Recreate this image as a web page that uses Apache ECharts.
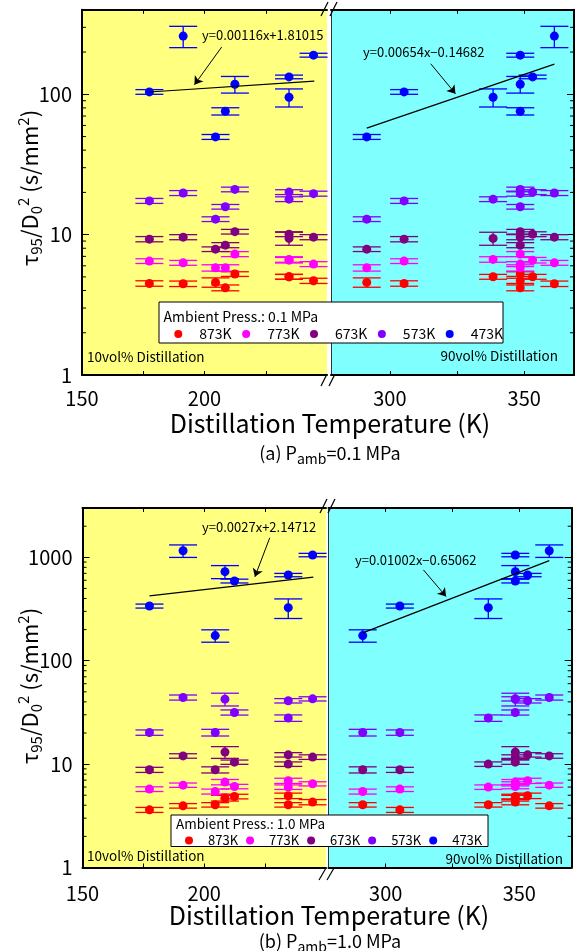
<!DOCTYPE html>
<html><head><meta charset="utf-8">
<script src="https://cdn.jsdelivr.net/npm/echarts@6/dist/echarts.min.js"></script>
<style>html,body{margin:0;padding:0;background:#fff}#c{width:575px;height:951px}</style>
</head><body><div id="c"></div>
<script>
const FONT = '"Noto Sans CJK JP","Noto Sans",sans-serif';
const temps = ['873K', '773K', '673K', '573K', '473K'];
const colors = ['#ff0000', '#ff00ff', '#800080', '#8000ff', '#0000ff'];

// Distillation temperatures of the 8 fuels (K)
const T10 = [177.5, 191.3, 204.5, 208.5, 212.4, 234.5, 234.5, 244.5];
const T90 = [305.3, 361.2, 291.4, 348.5, 348.5, 353.1, 338.4, 348.5];

// (a) Pamb = 0.1 MPa : tau95/D0^2 values and error (s/mm2)
const a873 = [4.49, 4.47, 4.57, 4.18, 5.24, 5.01, 5.01, 4.69];
const a773 = [6.48, 6.30, 5.80, 5.80, 7.27, 6.58, 6.66, 6.17];
const a673 = [9.29, 9.60, 7.88, 8.42, 10.5, 10.08, 9.40, 9.60];
const a573 = [17.4, 19.8, 12.9, 15.8, 21.0, 20.1, 17.9, 19.6];
const a473 = [104, 260, 49.7, 75.7, 118, 133, 95.2, 190];
const a873e = [0.2, 0.2, 0.35, 0.2, 0.2, 0.2, 0.2, 0.2];
const a773e = [0.25, 0.25, 0.3, 0.3, 0.3, 0.3, 0.3, 0.25];
const a673e = [0.4, 0.4, 0.3, 0.35, 0.4, 0.4, 1.0, 0.4];
const a573e = [0.7, 0.8, 0.5, 0.6, 0.8, 0.8, 0.7, 0.8];
const a473e = [4, 45, 2, 4.5, 16, 4, 14, 6];

// (b) Pamb = 1.0 MPa
const b873 = [3.61, 3.95, 4.04, 4.69, 4.86, 4.94, 4.04, 4.29];
const b773 = [5.73, 6.26, 5.43, 6.70, 6.07, 6.90, 5.99, 6.45];
const b673 = [8.81, 12.0, 8.81, 13.06, 10.45, 12.3, 10.0, 11.7];
const b573 = [20.2, 44.1, 20.2, 42.5, 31.6, 41.0, 27.9, 42.8];
const b473 = [338, 1158, 175, 727, 590, 674, 326, 1052];
const b873e = [0.2, 0.2, 0.2, 0.3, 0.25, 0.3, 0.2, 0.25];
const b773e = [0.3, 0.3, 0.3, 0.4, 0.3, 0.4, 0.3, 0.3];
const b673e = [0.5, 0.6, 0.6, 1.7, 0.5, 0.6, 0.5, 0.6];
const b573e = [1.2, 2.5, 1.5, 6, 1.8, 2, 2, 2];
const b473e = [15, 160, 24, 105, 25, 25, 70, 40];

// fit lines (log10 fits shown in the chart) — endpoints
const fitA10 = [[177.5, 103.8], [244.8, 124.2]];
const fitA90 = [[291.4, 57.4], [361.2, 164.2]];
const fitB10 = [[177.5, 423], [244.8, 643]];
const fitB90 = [[291.4, 186], [361.2, 930]];
const eqA10 = 'y=0.00116x+1.81015';
const eqA90 = 'y=0.00654x\u22120.14682';
const eqB10 = 'y=0.0027x+2.14712';
const eqB90 = 'y=0.01002x\u22120.65062';
// arrows: [from, to] in data coords
const arrA10 = [[207.0, 217], [195.9, 117]];
const arrA90 = [[315.2, 165], [324.4, 101]];
const arrB10 = [[226.9, 1545], [220.8, 648]];
const arrB90 = [[314.1, 757], [322.6, 418]];

// axis ticks / labels
const xTickL = [175, 200, 225];
const xLabL = [150, 200];
const xTickR = [300, 325, 350];
const xLabR = [300, 350];

const panels = [
  { top: 9.8, height: 365.2, yMax: 400, margin: 13,
    L: { left: 82, width: 245, min: 150, max: 250 },
    R: { left: 331, width: 243, min: 278.1, max: 368.5 } },
  { top: 508, height: 359.5, yMax: 3000, margin: 16,
    L: { left: 82.5, width: 243.5, min: 150, max: 250 },
    R: { left: 328.5, width: 243.2, min: 278.6, max: 369.6 } }
];

const minorVals = [];
for (let d = 1; d <= 1000; d *= 10) for (let k = 2; k <= 9; k++) minorVals.push(k * d);

const grids = [], xAxes = [], yAxes = [], series = [];
panels.forEach((p, pi) => {
  ['L', 'R'].forEach((side, si) => {
    const s = p[side];
    const g = pi * 2 + si;
    grids.push({ left: s.left, top: p.top, width: s.width, height: p.height, show: true,
      backgroundColor: si === 0 ? '#ffff80' : '#80ffff', borderWidth: 0 });
    const ticks = si === 0 ? xTickL : xTickR;
    const labs = si === 0 ? xLabL : xLabR;
    const xBase = { gridIndex: g, type: 'value', min: s.min, max: s.max, splitLine: { show: false },
      axisLine: { lineStyle: { color: '#000', width: 2 } } };
    xAxes.push(Object.assign({}, xBase, { position: 'bottom',
      axisTick: { inside: true, length: 4, customValues: ticks, lineStyle: { color: '#000', width: 1 } },
      axisLabel: { customValues: labs, fontSize: 20, color: '#000', fontFamily: FONT, margin: p.margin } }));
    xAxes.push(Object.assign({}, xBase, { position: 'top',
      axisTick: { inside: true, length: 4, customValues: ticks, lineStyle: { color: '#000', width: 1 } },
      axisLabel: { show: false } }));
    const yBase = { gridIndex: g, type: 'log', logBase: 10, min: 1, max: p.yMax, splitLine: { show: false } };
    if (si === 0) {
      yAxes.push(Object.assign({}, yBase, { position: 'left',
        axisLine: { lineStyle: { color: '#000', width: 2 } },
        axisTick: { inside: true, length: 7, lineStyle: { color: '#000', width: 1 } },
        axisLabel: { fontSize: 20, color: '#000', fontFamily: FONT, margin: 10, showMaxLabel: false,
          formatter: v => String(Math.round(v)) } }));
      yAxes.push(Object.assign({}, yBase, { position: 'right', show: false }));
    } else {
      yAxes.push(Object.assign({}, yBase, { position: 'left',
        axisLine: { lineStyle: { color: '#333', width: 1 } },
        axisTick: { show: false }, axisLabel: { show: false } }));
      yAxes.push(Object.assign({}, yBase, { position: 'right',
        axisLine: { lineStyle: { color: '#000', width: 2 } },
        axisTick: { inside: true, length: 7, lineStyle: { color: '#000', width: 1 } },
        axisLabel: { show: false } }));
    }
    // minor log ticks
    const yMax = p.yMax;
    series.push({ type: 'custom', xAxisIndex: 2 * g, yAxisIndex: 2 * g, silent: true, z: 5,
      data: [[s.min, 1]],
      renderItem: (params, api) => {
        const cs = params.coordSys;
        const children = [];
        const x0 = si === 0 ? cs.x : cs.x + cs.width;
        const dir = si === 0 ? 1 : -1;
        minorVals.forEach(v => {
          if (v > yMax) return;
          const y = api.coord([s.min, v])[1];
          children.push({ type: 'line', shape: { x1: x0, y1: y, x2: x0 + dir * 4, y2: y },
            style: { stroke: '#000', lineWidth: 1 } });
        });
        return { type: 'group', children };
      } });
  });
});

function errSeries(name, color, g, xs, vs, es) {
  return { type: 'custom', name, xAxisIndex: 2 * g, yAxisIndex: 2 * g, z: 2, silent: true,
    itemStyle: { color },
    data: xs.map((x, j) => [x, vs[j], es[j]]),
    encode: { x: 0, y: 1 },
    renderItem: (params, api) => {
      const x = api.value(0), y = api.value(1), e = api.value(2);
      const t = api.coord([x, y + e]);
      const b = api.coord([x, Math.max(y - e, 1e-6)]);
      const hw = 14;
      const st = { stroke: color, lineWidth: 1.3 };
      return { type: 'group', children: [
        { type: 'line', shape: { x1: t[0], y1: t[1], x2: b[0], y2: b[1] }, style: st },
        { type: 'line', shape: { x1: t[0] - hw, y1: t[1], x2: t[0] + hw, y2: t[1] }, style: st },
        { type: 'line', shape: { x1: b[0] - hw, y1: b[1], x2: b[0] + hw, y2: b[1] }, style: st }
      ] };
    } };
}
function dotSeries(name, color, g, xs, vs) {
  return { type: 'scatter', name, xAxisIndex: 2 * g, yAxisIndex: 2 * g, z: 3,
    symbol: 'circle', symbolSize: 9, itemStyle: { color, opacity: 1 },
    data: xs.map((x, j) => [x, vs[j]]) };
}
function fitSeries(g, pts, arrow) {
  return { type: 'line', xAxisIndex: 2 * g, yAxisIndex: 2 * g, z: 4, silent: true,
    symbol: 'none', lineStyle: { color: '#000', width: 1.2 }, data: pts,
    markLine: { silent: true, symbol: ['none', 'arrow'], symbolSize: 8, animation: false,
      label: { show: false }, lineStyle: { color: '#000', width: 1, type: 'solid' },
      data: [[{ coord: arrow[0] }, { coord: arrow[1] }]] } };
}

const setsA = [[a873, a873e], [a773, a773e], [a673, a673e], [a573, a573e], [a473, a473e]];
const setsB = [[b873, b873e], [b773, b773e], [b673, b673e], [b573, b573e], [b473, b473e]];
[setsA, setsB].forEach((sets, pi) => {
  sets.forEach((sv, i) => {
    series.push(errSeries(temps[i], colors[i], pi * 2, T10, sv[0], sv[1]));
    series.push(errSeries(temps[i], colors[i], pi * 2 + 1, T90, sv[0], sv[1]));
  });
  sets.forEach((sv, i) => {
    series.push(dotSeries(temps[i], colors[i], pi * 2, T10, sv[0]));
    series.push(dotSeries(temps[i], colors[i], pi * 2 + 1, T90, sv[0]));
  });
});
series.push(fitSeries(0, fitA10, arrA10));
series.push(fitSeries(1, fitA90, arrA90));
series.push(fitSeries(2, fitB10, arrB10));
series.push(fitSeries(3, fitB90, arrB90));

function txt(x, y, text, size, align, extra) {
  return Object.assign({ type: 'text', x, y, z: 10,
    style: { text, fontSize: size, fontFamily: FONT, fill: '#000', align: align || 'left', verticalAlign: 'middle' } }, extra || {});
}
function slash(x1, y1, x2, y2) {
  return { type: 'line', z: 10, shape: { x1, y1, x2, y2 }, style: { stroke: '#000', lineWidth: 1.2 } };
}
const yTitleRich = {
  m: { fontSize: 22, fontFamily: FONT, fill: '#000' },
  s: { fontSize: 15, fontFamily: FONT, fill: '#000', padding: [12, 0, 0, 0] },
  p: { fontSize: 15, fontFamily: FONT, fill: '#000', padding: [0, 0, 14, 0] }
};
const yTitle = '{m|\u03c4}{s|95}{m|/D}{s|0}{p|2}{m| (s/mm}{p|2}{m|)}';
const subRich = {
  m: { fontSize: 18, fontFamily: FONT, fill: '#000' },
  s: { fontSize: 14, fontFamily: FONT, fill: '#000', padding: [12, 0, 0, 0] }
};

const graphic = [
  // y titles
  { type: 'text', x: 30, y: 188, rotation: Math.PI / 2, z: 10,
    style: { text: yTitle, rich: yTitleRich, align: 'center', verticalAlign: 'middle' } },
  { type: 'text', x: 30, y: 686, rotation: Math.PI / 2, z: 10,
    style: { text: yTitle, rich: yTitleRich, align: 'center', verticalAlign: 'middle' } },
  // x titles
  txt(330, 423, 'Distillation Temperature (K)', 25, 'center'),
  txt(329, 915, 'Distillation Temperature (K)', 25, 'center'),
  { type: 'text', x: 330, y: 453, z: 10, style: { text: '{m|(a) P}{s|amb}{m|=0.1 MPa}', rich: subRich, align: 'center', verticalAlign: 'middle' } },
  { type: 'text', x: 330, y: 941, z: 10, style: { text: '{m|(b) P}{s|amb}{m|=1.0 MPa}', rich: subRich, align: 'center', verticalAlign: 'middle' } },
  // region labels
  txt(87, 357, '10vol% Distillation', 13.5),
  txt(558, 356, '90vol% Distillation', 13.5, 'right'),
  txt(87, 856, '10vol% Distillation', 13.5),
  txt(563, 858.5, '90vol% Distillation', 13.5, 'right'),
  // equations
  txt(202, 35, eqA10, 13),
  txt(363, 52, eqA90, 13),
  txt(202, 527, eqB10, 13),
  txt(355, 560, eqB90, 13),
  // legend boxes
  { type: 'rect', z: 10, shape: { x: 159, y: 302, width: 344, height: 41 }, style: { fill: '#fff', stroke: '#000', lineWidth: 1 } },
  txt(163.5, 316.5, 'Ambient Press.: 0.1 MPa', 14),
  { type: 'rect', z: 10, shape: { x: 171, y: 815, width: 317, height: 31.5 }, style: { fill: '#fff', stroke: '#000', lineWidth: 1 } },
  txt(176, 823.5, 'Ambient Press.: 1.0 MPa', 13.5),
  // axis breaks
  slash(321, 16, 328, 2), slash(330, 16, 337, 2),
  slash(321, 386, 327, 374), slash(329, 386, 335, 374),
  slash(320, 513, 327, 499), slash(328, 513, 335, 499),
  slash(319, 880, 326, 868), slash(327, 880, 334, 868)
];

const chart = echarts.init(document.getElementById('c'), null, { renderer: 'canvas' });
chart.setOption({
  animation: false,
  backgroundColor: '#fff',
  textStyle: { fontFamily: FONT },
  grid: grids, xAxis: xAxes, yAxis: yAxes, series,
  legend: [
    { data: temps, left: 174.3, top: 327, itemWidth: 8, itemHeight: 8, itemGap: 10.5, padding: 0, z: 20,
      icon: 'circle', selectedMode: false,
      textStyle: { fontSize: 14, color: '#000', fontFamily: FONT, padding: [0, 0, 0, 12], width: 30 } },
    { data: temps, left: 185, top: 834, itemWidth: 8, itemHeight: 8, itemGap: 8, padding: 0, z: 20,
      icon: 'circle', selectedMode: false,
      textStyle: { fontSize: 13, color: '#000', fontFamily: FONT, padding: [0, 0, 0, 10], width: 29 } }
  ],
  graphic
});
</script></body></html>
